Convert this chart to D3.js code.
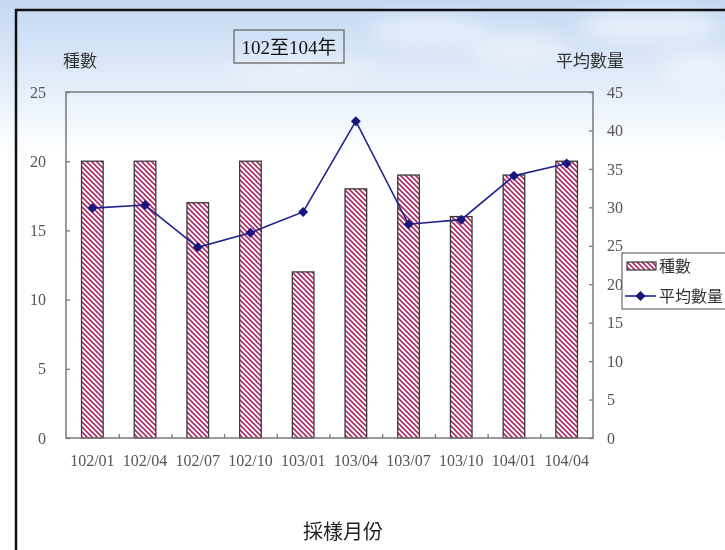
<!DOCTYPE html>
<html>
<head>
<meta charset="utf-8">
<script src="https://cdn.jsdelivr.net/npm/d3@7"></script>
<style>
  body { margin: 0; background: #fff; }
  svg { display: block; }
  text { font-family: "Liberation Serif", "Noto Sans CJK TC", serif; }
</style>
</head>
<body>
<svg id="chart" width="725" height="550"></svg>
<script>
// Sampling months (ROC calendar year/month)
const months = ["102/01", "102/04", "102/07", "102/10", "103/01", "103/04", "103/07", "103/10", "104/01", "104/04"];
// Number of species per sampling (left axis)
const speciesCount = [20, 20, 17, 20, 12, 18, 19, 16, 19, 20];
// Average quantity per sampling (right axis)
const avgQuantity = [29.9, 30.3, 24.8, 26.7, 29.4, 41.2, 27.8, 28.4, 34.1, 35.7];
// Axis tick values
const leftTicks = [0, 5, 10, 15, 20, 25];
const rightTicks = [0, 5, 10, 15, 20, 25, 30, 35, 40, 45];

const W = 725, H = 550;
const plot = { left: 66, right: 593, top: 92, bottom: 438 };

const svg = d3.select("#chart");
const defs = svg.append("defs");

// soft sky backdrop
const sky = defs.append("linearGradient").attr("id", "sky")
  .attr("x1", 0).attr("y1", 0).attr("x2", 0).attr("y2", 1);
sky.append("stop").attr("offset", "0").attr("stop-color", "#c3d9f3");
sky.append("stop").attr("offset", "0.12").attr("stop-color", "#dbe8f8");
sky.append("stop").attr("offset", "0.28").attr("stop-color", "#ffffff");
sky.append("stop").attr("offset", "1").attr("stop-color", "#ffffff");

const cloudBlur = defs.append("filter").attr("id", "cloudBlur")
  .attr("x", "-50%").attr("y", "-50%").attr("width", "200%").attr("height", "200%");
cloudBlur.append("feGaussianBlur").attr("stdDeviation", 9);

// diagonal hatch used by the species bars
const hatch = defs.append("pattern").attr("id", "hatch")
  .attr("patternUnits", "userSpaceOnUse").attr("width", 5).attr("height", 5);
hatch.append("rect").attr("width", 5).attr("height", 5).attr("fill", "#ffffff");
hatch.append("path")
  .attr("d", "M-1,-1 L6,6 M4,-1 L6,1 M-1,4 L1,6")
  .attr("stroke", "#ad2a66").attr("stroke-width", 1.6);

svg.append("rect").attr("width", W).attr("height", H).attr("fill", "url(#sky)");

// faint cloud wisps near the top
const clouds = svg.append("g").attr("filter", "url(#cloudBlur)").attr("fill", "#ffffff");
[[430, 30, 60, 14, 0.45], [520, 50, 50, 18, 0.4], [650, 25, 70, 16, 0.5], [300, 70, 80, 12, 0.35], [700, 70, 40, 20, 0.4]]
  .forEach(([cx, cy, rx, ry, o]) => clouds.append("ellipse")
    .attr("cx", cx).attr("cy", cy).attr("rx", rx).attr("ry", ry).attr("opacity", o));

// panel border
svg.append("path").attr("d", `M16,${H} L16,10 L${W},10`)
  .attr("fill", "none").attr("stroke", "#111").attr("stroke-width", 2.5);

// scales
const x = d3.scaleBand().domain(months).range([plot.left, plot.right]).padding(0);
const xIdx = d3.scaleLinear().domain([0, months.length]).range([plot.left, plot.right]);
const yL = d3.scaleLinear().domain([0, 25]).range([plot.bottom, plot.top]);
const yR = d3.scaleLinear().domain([0, 45]).range([plot.bottom, plot.top]);

const barW = x.bandwidth() * 0.41;

// bars
svg.append("g").selectAll("rect").data(months).join("rect")
  .attr("x", (d) => x(d) + (x.bandwidth() - barW) / 2)
  .attr("y", (d, i) => yL(speciesCount[i]))
  .attr("width", barW)
  .attr("height", (d, i) => yL(0) - yL(speciesCount[i]))
  .attr("fill", "url(#hatch)")
  .attr("stroke", "#3a3a3a").attr("stroke-width", 1.3);

// plot frame
svg.append("rect")
  .attr("x", plot.left).attr("y", plot.top)
  .attr("width", plot.right - plot.left).attr("height", plot.bottom - plot.top)
  .attr("fill", "none").attr("stroke", "#7a7a7a").attr("stroke-width", 1.5);

function styleAxis(g) {
  g.select(".domain").remove();
  g.selectAll(".tick line").attr("stroke", "#7a7a7a").attr("stroke-width", 1.3);
  g.selectAll(".tick text").attr("fill", "#555").style("font-size", "16px")
    .style("font-family", "'Liberation Serif', serif");
}

// left axis
svg.append("g").attr("transform", `translate(${plot.left},0)`)
  .call(d3.axisLeft(yL).tickValues(leftTicks).tickSize(-4).tickPadding(20))
  .call(styleAxis);

// right axis
svg.append("g").attr("transform", `translate(${plot.right},0)`)
  .call(d3.axisRight(yR).tickValues(rightTicks).tickSize(-4).tickPadding(14))
  .call(styleAxis);

// category separators on the x axis
svg.append("g").attr("transform", `translate(0,${plot.bottom})`)
  .call(d3.axisBottom(xIdx).tickValues(d3.range(1, months.length)).tickSize(-4).tickFormat(""))
  .call(styleAxis);

// month labels
svg.append("g").attr("transform", `translate(0,${plot.bottom})`)
  .call(d3.axisBottom(x).tickSize(0).tickPadding(17))
  .call(styleAxis);

// average quantity line
const line = d3.line()
  .x((d, i) => x(months[i]) + x.bandwidth() / 2)
  .y((d) => yR(d));
svg.append("path").datum(avgQuantity)
  .attr("d", line).attr("fill", "none")
  .attr("stroke", "#23238f").attr("stroke-width", 1.6);

// square markers turned 45° give an even diamond
const diamond = d3.symbol().type(d3.symbolSquare).size(50);
svg.append("g").selectAll("path").data(avgQuantity).join("path")
  .attr("d", diamond)
  .attr("transform", (d, i) => `translate(${x(months[i]) + x.bandwidth() / 2},${yR(d)}) rotate(45)`)
  .attr("fill", "#16167e");

// axis titles
svg.append("text").attr("x", 80).attr("y", 67).attr("text-anchor", "middle")
  .attr("fill", "#333").style("font-size", "17px").text("種數");
svg.append("text").attr("x", 590).attr("y", 67).attr("text-anchor", "middle")
  .attr("fill", "#333").style("font-size", "17px").text("平均數量");
svg.append("text").attr("x", 343).attr("y", 539).attr("text-anchor", "middle")
  .attr("fill", "#222").style("font-size", "20px").text("採樣月份");

// title box
svg.append("rect").attr("x", 234).attr("y", 30).attr("width", 110).attr("height", 33)
  .attr("fill", "none").attr("stroke", "#6a6a6a").attr("stroke-width", 1.3);
svg.append("text").attr("x", 289).attr("y", 54).attr("text-anchor", "middle")
  .attr("fill", "#111").style("font-size", "19px").text("102至104年");

// legend
const legend = svg.append("g");
legend.append("rect").attr("x", 622).attr("y", 253).attr("width", 110).attr("height", 56)
  .attr("fill", "#ffffff").attr("stroke", "#6a6a6a").attr("stroke-width", 1.2);
legend.append("rect").attr("x", 627).attr("y", 262).attr("width", 29).attr("height", 8)
  .attr("fill", "url(#hatch)").attr("stroke", "#3a3a3a").attr("stroke-width", 1.2);
legend.append("text").attr("x", 659).attr("y", 272).attr("fill", "#333")
  .style("font-size", "16px").text("種數");
legend.append("line").attr("x1", 625).attr("x2", 656).attr("y1", 296).attr("y2", 296)
  .attr("stroke", "#23238f").attr("stroke-width", 1.6);
legend.append("path").attr("d", diamond).attr("transform", "translate(640.5,296) rotate(45)").attr("fill", "#16167e");
legend.append("text").attr("x", 659).attr("y", 302).attr("fill", "#333")
  .style("font-size", "16px").text("平均數量");
</script>
</body>
</html>
